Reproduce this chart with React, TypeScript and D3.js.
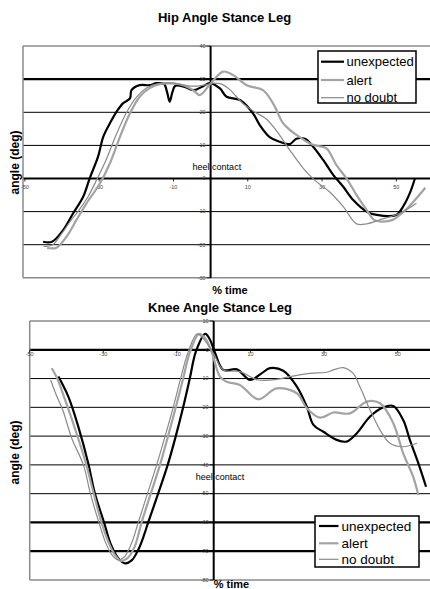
import React from "react";
import * as d3 from "d3";

type Pt = [number, number];

const seriesNames = ["unexpected", "alert", "no doubt"];
const seriesColors = ["#000000", "#a3a3a3", "#8a8a8a"];
const seriesWidths = [2.2, 2.2, 1.2];

const xTickValues = [-50, -30, -10, 10, 30, 50];
const hipYTicks = [40, 30, 20, 10, 0, -10, -20, -30];
const kneeYTicks = [10, 0, -10, -20, -30, -40, -50, -60, -70, -80];

const hipUnexpected: Pt[] = [
  [-45.1, -19.1], [-42.7, -19.1], [-39.7, -15.6], [-37, -10.5], [-34.3, -5.5], [-32.5, 0.2],
  [-30.3, 6.6], [-28.9, 12.6], [-27.1, 16.7], [-25.3, 20.2], [-23.6, 22.7], [-21.7, 24.2],
  [-21.3, 26.7], [-19.1, 28.2], [-16.4, 28.2], [-14.6, 28.8], [-12.5, 28.5], [-11.7, 26],
  [-11, 23.2], [-10.3, 26], [-9.5, 28], [-7, 27.7], [-4.5, 26.7], [-2, 27.9], [-0.2, 28.8],
  [2.5, 27.2], [4.3, 24.7], [7.9, 23.7], [11.4, 19.7], [13.2, 16.2], [15.9, 12.5], [18.6, 11.1],
  [21.3, 10.4], [23.1, 12], [25.4, 12], [27.6, 9.6], [30.3, 5.6], [33, 1.1], [35.7, -2.5],
  [38.4, -6.5], [42, -10], [44.7, -11], [50, -11], [51.8, -8.5], [53.6, -4.5], [55, 0],
];
const hipAlert: Pt[] = [
  [-44, -21], [-41.5, -20.9], [-38.8, -17.6], [-36.1, -12.5], [-33.4, -7.5], [-29.8, -1.5],
  [-27.1, 4.6], [-24.4, 12.6], [-21.7, 19.7], [-19.1, 24.7], [-16.4, 27.3], [-13.7, 28.5],
  [-10, 28.7], [-7, 28], [-4.5, 26.5], [-2.9, 25.2], [-0.5, 28], [1, 30], [3.4, 32.3], [6, 31.3],
  [9.7, 28.2], [14.1, 26.7], [16.8, 22.7], [19.5, 16.7], [21.3, 14.7], [24, 12.5], [26.7, 10.6],
  [29, 9.8], [31.2, 9.1], [33.9, 4], [36.6, 0], [39.3, -5], [42, -9.5], [44, -12.5], [46, -13],
  [49, -12.5], [52, -10], [55, -6.5], [57.8, -2.8],
];
const hipNoDoubt: Pt[] = [
  [-45, -20.5], [-42.5, -20], [-40, -16.5], [-37.5, -12.5], [-35.7, -10], [-33, -5.5], [-30.5, 0],
  [-28, 6], [-25.5, 13], [-22.6, 20], [-20, 24.5], [-17, 27.5], [-14, 28.7], [-10, 28.8], [-6, 28],
  [-3, 28], [-0.5, 28.5], [0.7, 28.8], [3, 28.5], [5, 27], [8.7, 22.7], [12, 20], [15, 18],
  [18, 14], [21.3, 8.6], [25, 3], [28, -0.5], [32, -4], [35.7, -8.5], [39.3, -13.7], [42, -13.7],
  [45.5, -12.5], [51, -10.5], [55.4, -7.5],
];

const kneeUnexpected: Pt[] = [
  [-42.2, -9.3], [-39.5, -16.3], [-36.8, -26.7], [-34.1, -39.4], [-32.3, -49.9], [-29.8, -60],
  [-28, -67.5], [-26, -72.3], [-24.1, -74.2], [-22.3, -73.2], [-20.5, -69.5], [-19.1, -65],
  [-17.8, -60], [-15.1, -50], [-12.5, -40], [-10.3, -30], [-8.3, -20], [-6.5, -10],
  [-4.8, -0.5], [-2.3, 5.5], [-1, 3.5], [0.4, -1.2], [2.6, -7], [6.3, -6.8], [9.9, -10.5],
  [13, -8.2], [15.3, -6.4], [18.9, -7.3], [22.6, -12.8], [25.3, -19.8], [27.1, -26.1],
  [29.8, -28.5], [33.4, -31.3], [36.1, -31.9], [38.9, -29], [42.5, -23.2], [46.1, -20],
  [48.8, -19.5], [51.5, -24.4], [53.3, -31.3], [55.6, -39.4], [57.7, -47.6],
];
const kneeAlert: Pt[] = [
  [-44, -6.4], [-42.5, -10], [-40.5, -17], [-37.8, -27], [-34.6, -40], [-32.8, -49], [-30.5, -60],
  [-28.7, -66.5], [-27, -71], [-25.3, -73.3], [-23.5, -72.5], [-21.5, -68.5], [-19.6, -60],
  [-17.1, -50], [-14.6, -40], [-12.4, -30], [-10.3, -20], [-8.3, -10], [-6.5, -1], [-4, 5.5],
  [-2.3, 4], [-0.5, -1], [1.7, -9.3], [3.5, -11.1], [7.1, -12.2], [12.1, -17.2], [17.1, -13.4],
  [22.6, -15.1], [25.3, -20.3], [28.9, -23.6], [32.5, -21.8], [37, -22.1], [41.6, -18],
  [45.2, -18.6], [48.8, -25.5], [51.5, -36], [54.2, -44.1], [55.6, -50.5],
];
const kneeNoDoubt: Pt[] = [
  [-44.3, -10.5], [-43, -15], [-41, -21], [-38.5, -31], [-35.4, -40], [-33.5, -50], [-31.2, -60],
  [-29.5, -66.5], [-27.8, -71], [-26, -73], [-24.3, -72], [-22.4, -67.5], [-20.5, -60],
  [-18, -50], [-15.5, -40], [-13.2, -30], [-11, -20], [-9, -10], [-7, -1], [-4.5, 5.5],
  [-2.6, 3.5], [-0.1, -1.2], [2.6, -7], [7.1, -7.6], [12.1, -10.5], [17.1, -10.3], [20.7, -9.3],
  [26.2, -8.2], [30.7, -7.8], [32.5, -7], [35.2, -6.2], [37.9, -8.2], [39.7, -12.8],
  [42.5, -20.9], [45.2, -27.9], [47.9, -32.5], [51.5, -33.7], [55.2, -32.5],
];

type ChartProps = {
  title: string;
  titleY: number;
  titleX: number;
  xDomain: [number, number];
  xRange: [number, number];
  yDomain: [number, number];
  yRange: [number, number];
  yTicks: number[];
  thickLines: number[];
  series: Pt[][];
  xLabelDy: number;
  heelY: number;
  timeY: number;
  timeX: number;
  angleX: number;
  angleY: number;
  legend: { x: number; y: number; w: number; h: number; rowY: number[]; lineX: [number, number]; textX: number; fs: number };
};

function Chart(p: ChartProps) {
  const x = d3.scaleLinear().domain(p.xDomain).range(p.xRange);
  const y = d3.scaleLinear().domain(p.yDomain).range(p.yRange);
  const line = d3
    .line<Pt>()
    .x((d) => x(d[0]))
    .y((d) => y(d[1]))
    .curve(d3.curveCatmullRom.alpha(0.5));
  const left = p.xRange[0];
  const right = 440;
  const top = y(p.yDomain[1]);
  const bottom = y(p.yDomain[0]);
  const x0 = x(0);
  const y0 = y(0);
  const grid = p.yTicks.filter((v) => v !== p.yDomain[0] && v !== p.yDomain[1]);
  return (
    <g>
      <text x={p.titleX} y={p.titleY} textAnchor="middle" fontFamily="Liberation Sans, Arial, sans-serif" fontWeight="bold" fontSize={13}>
        {p.title}
      </text>
      {grid.map((v) => (
        <line key={v} x1={left} x2={right} y1={y(v)} y2={y(v)} stroke="#000" strokeWidth={p.thickLines.includes(v) ? 2.2 : 1} />
      ))}
      <line x1={left} x2={right} y1={top} y2={top} stroke="#8a8a8a" strokeWidth={1.5} />
      <line x1={left} x2={right} y1={bottom} y2={bottom} stroke="#8a8a8a" strokeWidth={1.5} />
      <line x1={left} x2={left} y1={top} y2={bottom} stroke="#8a8a8a" strokeWidth={1.5} />
      <line x1={x0} x2={x0} y1={top} y2={bottom} stroke="#000" strokeWidth={2} />
      {p.yTicks.map((v) => (
        <g key={v}>
          <line x1={x0 - 4} x2={x0} y1={y(v)} y2={y(v)} stroke="#000" strokeWidth={0.8} />
          <text x={x0 - 5} y={y(v) + 1.8} textAnchor="end" fontFamily="Liberation Sans, Arial, sans-serif" fontSize={5.5} fill="#444">
            {v}
          </text>
        </g>
      ))}
      {xTickValues.map((v) => (
        <g key={v}>
          <line x1={x(v)} x2={x(v)} y1={y0} y2={y0 + 3} stroke="#000" strokeWidth={0.8} />
          <text x={x(v)} y={y0 + p.xLabelDy} textAnchor="middle" fontFamily="Liberation Sans, Arial, sans-serif" fontSize={5.5} fill="#444">
            {v}
          </text>
        </g>
      ))}
      <text x={x0 - 18} y={p.heelY} fontFamily="Liberation Sans, Arial, sans-serif" fontSize={9} fill="#000">
        heel contact
      </text>
      {p.series.map((s, i) => (
        <path key={i} d={line(s) || ""} fill="none" stroke={seriesColors[i]} strokeWidth={seriesWidths[i]} strokeLinejoin="round" />
      ))}
      <g>
        <rect x={p.legend.x} y={p.legend.y} width={p.legend.w} height={p.legend.h} fill="#fff" stroke="#000" strokeWidth={1.5} />
        {seriesNames.map((n, i) => (
          <g key={n}>
            <line x1={p.legend.lineX[0]} x2={p.legend.lineX[1]} y1={p.legend.rowY[i]} y2={p.legend.rowY[i]} stroke={seriesColors[i]} strokeWidth={seriesWidths[i]} />
            <text x={p.legend.textX} y={p.legend.rowY[i] + p.legend.fs * 0.36} fontFamily="Liberation Sans, Arial, sans-serif" fontSize={p.legend.fs}>
              {n}
            </text>
          </g>
        ))}
      </g>
      <text x={p.timeX} y={p.timeY} textAnchor="middle" fontFamily="Liberation Sans, Arial, sans-serif" fontWeight="bold" fontSize={11}>
        % time
      </text>
      <text
        transform={`translate(${p.angleX},${p.angleY}) rotate(-90)`}
        textAnchor="middle"
        fontFamily="Liberation Sans, Arial, sans-serif"
        fontWeight="bold"
        fontSize={12}
      >
        angle (deg)
      </text>
    </g>
  );
}

export default function App() {
  return (
    <svg width={430} height={589} style={{ position: "absolute", left: 0, top: 0, background: "#fff" }}>
      <rect x={0} y={0} width={430} height={589} fill="#fff" />
      <Chart
        title="Hip Angle Stance Leg"
        titleX={224.5}
        titleY={22}
        xDomain={[-50.5, 60]}
        xRange={[23, 433.5]}
        yDomain={[-30, 40]}
        yRange={[277.8, 46.1]}
        yTicks={hipYTicks}
        thickLines={[30, 0]}
        series={[hipUnexpected, hipAlert, hipNoDoubt]}
        xLabelDy={10}
        heelY={170}
        timeX={230}
        timeY={294}
        angleX={19}
        angleY={162.5}
        legend={{ x: 318, y: 51, w: 98, h: 52, rowY: [61.7, 80, 97.7], lineX: [321, 344], textX: 346.5, fs: 13 }}
      />
      <Chart
        title="Knee Angle Stance Leg"
        titleX={220}
        titleY={312}
        xDomain={[-50, 60]}
        xRange={[29.7, 434.5]}
        yDomain={[-80, 10]}
        yRange={[580, 321]}
        yTicks={kneeYTicks}
        thickLines={[0, -60, -70]}
        series={[kneeUnexpected, kneeAlert, kneeNoDoubt]}
        xLabelDy={6.5}
        heelY={480}
        timeX={231.5}
        timeY={587.5}
        angleX={18.5}
        angleY={452.5}
        legend={{ x: 315, y: 516, w: 104, h: 51, rowY: [526, 543.3, 559.3], lineX: [319, 338.5], textX: 341.5, fs: 13.5 }}
      />
    </svg>
  );
}
